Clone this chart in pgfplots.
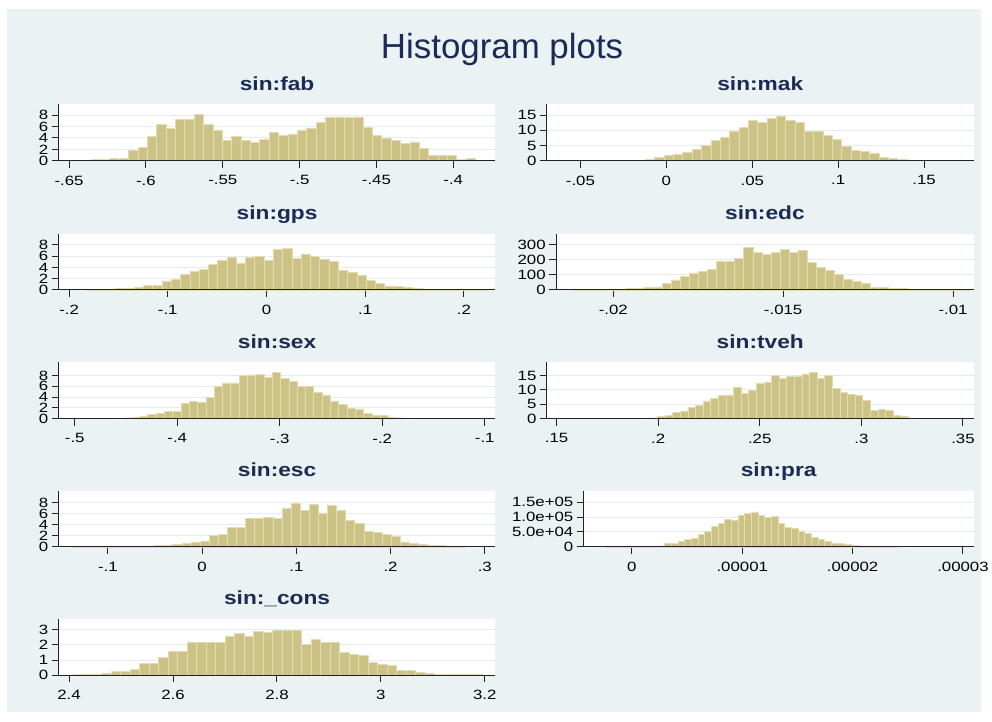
\documentclass[border=0pt]{standalone}
\usepackage{fontspec}
\setmainfont{Liberation Sans}
\newfontfamily\tickfam[FakeStretch=1.25]{Liberation Sans}
\newfontfamily\ptfam[FakeStretch=1.2]{Liberation Sans}
\usepackage{pgfplots}
\pgfplotsset{compat=1.18}
\definecolor{bgc}{HTML}{EAF2F3}
\definecolor{titc}{HTML}{1C2B55}
\definecolor{barc}{HTML}{CDC286}
\definecolor{bare}{HTML}{E3DDB4}
\definecolor{gridc}{HTML}{E4ECEF}
\definecolor{axc}{HTML}{222222}
\newcommand\ticklbl{\fontsize{13.5}{14}\selectfont\tickfam}
\newcommand\paneltitle{\fontsize{19}{20}\selectfont\ptfam\bfseries}
\pgfplotsset{
  hist/.style={
    scale only axis, height=56.5pt, anchor=south west,
    axis x line*=bottom, axis y line*=left,
    x axis line style={-}, y axis line style={-},
    axis line style={line width=1pt, color=axc},
    every tick/.style={line width=1pt, color=axc},
    major tick length=7pt, tick align=outside,
    ymajorgrids, major grid style={line width=1pt, color=gridc},
    ymin=0, clip=false,
    scaled x ticks=false, scaled y ticks=false,
    axis background/.style={fill=white},
    ticklabel style={font=\ticklbl, text=black},
    xticklabel style={yshift=-4.5pt},
    title style={font=\paneltitle, text=titc, at={(0.5,1)}, anchor=base, yshift=8pt},
    ybar, bar width=1, bar shift=0pt,
    every axis plot post/.append style={fill=barc, draw=bare, line width=0.7pt, mark=none},
  }
}
\newcommand\baseline{\draw[axc, line width=1pt] (rel axis cs:0,0) -- (rel axis cs:1,0);}
\begin{document}
\begin{tikzpicture}
\fill[white] (0pt,0pt) rectangle (992pt,-724pt);
\fill[bgc] (7pt,-9pt) rectangle (985pt,-715pt);
\node[anchor=base, text=titc, font=\fontsize{35}{38}\selectfont] at (504pt,-59pt) {Histogram plots};

% fab
\begin{axis}[hist, at={(59pt,-161.3pt)}, width=438.3pt,
  xmin=-1.434, xmax=45.115, ymax=9.9,
  xtick={-0.336,7.856,16.048,24.240,32.432,40.624}, xticklabels={-.65,-.6,-.55,-.5,-.45,-.4},
  ytick={0,2,4,6,8}, yticklabels={0,2,4,6,8}, title={sin:fab}]
\addplot coordinates {(0.5,0.05)(1.5,0.1)(2.5,0.15)(3.5,0.25)(4.5,0.35)(5.5,0.4)(6.5,1.85)(7.5,2.4)(8.5,4.2)(9.5,6.4)(10.5,5.7)(11.5,7.3)(12.5,7.2)(13.5,8.2)(14.5,6.4)(15.5,5.4)(16.5,3.6)(17.5,4.2)(18.5,3.5)(19.5,3.2)(20.5,3.8)(21.5,4.9)(22.5,4.5)(23.5,4.7)(24.5,5.4)(25.5,5.7)(26.5,6.7)(27.5,7.6)(28.5,7.7)(29.5,7.6)(30.5,7.7)(31.5,5.8)(32.5,4.5)(33.5,4.0)(34.5,3.6)(35.5,3.0)(36.5,3.3)(37.5,2.1)(38.5,0.9)(39.5,0.9)(40.5,0.9)(41.5,0.25)(42.5,0.35)(43.5,0.05)};
\baseline
\end{axis}

% mak
\begin{axis}[hist, at={(549pt,-161.3pt)}, width=428.3pt,
  xmin=-1.540, xmax=44.108, ymax=18.5,
  xtick={2.048,11.240,20.432,29.624,38.816}, xticklabels={-.05,0,.05,.1,.15},
  ytick={0,5,10,15}, yticklabels={0,5,10,15}, title={sin:mak}]
\addplot coordinates {(0.5,0.2)(1.5,0.05)(2.5,0)(3.5,0.05)(4.5,0.1)(5.5,0.1)(6.5,0.1)(7.5,0.15)(8.5,0.2)(9.5,0.5)(10.5,1.1)(11.5,1.8)(12.5,2.1)(13.5,2.8)(14.5,3.7)(15.5,5.1)(16.5,6.7)(17.5,7.6)(18.5,9.7)(19.5,10.9)(20.5,13.3)(21.5,12.5)(22.5,13.9)(23.5,14.7)(24.5,13.1)(25.5,12.7)(26.5,9.5)(27.5,9.5)(28.5,8.4)(29.5,7.1)(30.5,4.7)(31.5,3.5)(32.5,3.0)(33.5,2.4)(34.5,1.1)(35.5,0.8)(36.5,0.55)(37.5,0.2)(38.5,0.1)(39.5,0.1)(40.5,0.1)(41.5,0.1)(42.5,0.15)};
\baseline
\end{axis}

% gps
\begin{axis}[hist, at={(59pt,-291pt)}, width=438.3pt,
  xmin=-3.127, xmax=43.921, ymax=10,
  xtick={-2.018,8.617,19.252,29.887,40.522}, xticklabels={-.2,-.1,0,.1,.2},
  ytick={0,2,4,6,8}, yticklabels={0,2,4,6,8}, title={sin:gps}]
\addplot coordinates {(0.5,0.1)(1.5,0.1)(2.5,0.1)(3.5,0.2)(4.5,0.3)(5.5,0.5)(6.5,0.8)(7.5,0.8)(8.5,1.6)(9.5,1.8)(10.5,2.7)(11.5,3.3)(12.5,3.6)(13.5,4.5)(14.5,5.3)(15.5,5.8)(16.5,4.8)(17.5,5.8)(18.5,6.0)(19.5,5.2)(20.5,7.2)(21.5,7.3)(22.5,5.6)(23.5,6.4)(24.5,5.9)(25.5,5.5)(26.5,5.1)(27.5,3.4)(28.5,3.1)(29.5,2.5)(30.5,1.7)(31.5,1.2)(32.5,0.7)(33.5,0.6)(34.5,0.5)(35.5,0.25)(36.5,0.15)(37.5,0.1)(38.5,0.1)(39.5,0.1)(40.5,0.1)(41.5,0.05)(42.5,0.1)};
\baseline
\end{axis}

% edc
\begin{axis}[hist, at={(558.3pt,-291pt)}, width=419pt,
  xmin=-1.696, xmax=44.348, ymax=372,
  xtick={4.604,23.341,42.077}, xticklabels={-.02,-.015,-.01},
  ytick={0,100,200,300}, yticklabels={0,100,200,300}, title={sin:edc}]
\addplot coordinates {(0.5,3)(1.5,2)(2.5,3)(3.5,3)(4.5,4)(5.5,5)(6.5,7)(7.5,11)(8.5,15)(9.5,20)(10.5,45)(11.5,66)(12.5,90)(13.5,112)(14.5,120)(15.5,134)(16.5,188)(17.5,188)(18.5,210)(19.5,278)(20.5,245)(21.5,232)(22.5,247)(23.5,269)(24.5,247)(25.5,263)(26.5,180)(27.5,151)(28.5,129)(29.5,101)(30.5,70)(31.5,59)(32.5,44)(33.5,18)(34.5,15)(35.5,11)(36.5,7)(37.5,4)(38.5,3)(39.5,3)(40.5,2)(41.5,2)(42.5,2)(43.5,2)};
\baseline
\end{axis}

% sex
\begin{axis}[hist, at={(59pt,-420.3pt)}, width=438.3pt,
  xmin=-1.72, xmax=50.88, ymax=10.4,
  xtick={0.2,12.548,24.896,37.244,49.592}, xticklabels={-.5,-.4,-.3,-.2,-.1},
  ytick={0,2,4,6,8}, yticklabels={0,2,4,6,8}, title={sin:sex}]
\addplot coordinates {(0.5,0.1)(1.5,0.1)(2.5,0)(3.5,0)(4.5,0.1)(5.5,0.1)(6.5,0.15)(7.5,0.2)(8.5,0.4)(9.5,0.8)(10.5,1.0)(11.5,1.3)(12.5,1.4)(13.5,2.9)(14.5,3.2)(15.5,3.0)(16.5,3.9)(17.5,6.0)(18.5,6.6)(19.5,6.6)(20.5,8.0)(21.5,8.1)(22.5,8.2)(23.5,7.7)(24.5,8.5)(25.5,7.4)(26.5,6.9)(27.5,6.0)(28.5,5.9)(29.5,4.8)(30.5,4.4)(31.5,3.3)(32.5,2.6)(33.5,1.9)(34.5,1.8)(35.5,1.0)(36.5,0.55)(37.5,0.6)(38.5,0.3)(39.5,0.15)(40.5,0.1)(41.5,0.1)(42.5,0.1)};
\baseline
\end{axis}

% tveh
\begin{axis}[hist, at={(549pt,-420.3pt)}, width=428.3pt,
  xmin=-10.54, xmax=45.57, ymax=19.6,
  xtick={-9.275,4.087,17.450,30.812,44.175}, xticklabels={.15,.2,.25,.3,.35},
  ytick={0,5,10,15}, yticklabels={0,5,10,15}, title={sin:tveh}]
\addplot coordinates {(0.5,0.1)(1.5,0.1)(2.5,0.2)(3.5,0.3)(4.5,0.7)(5.5,1.2)(6.5,2.2)(7.5,2.7)(8.5,3.9)(9.5,4.7)(10.5,6.2)(11.5,7.0)(12.5,8.1)(13.5,8.3)(14.5,11.0)(15.5,8.8)(16.5,9.9)(17.5,12.2)(18.5,12.8)(19.5,15.1)(20.5,14.0)(21.5,14.6)(22.5,14.9)(23.5,15.6)(24.5,16.1)(25.5,14.0)(26.5,15.1)(27.5,10.5)(28.5,9.1)(29.5,8.4)(30.5,8.0)(31.5,6.5)(32.5,3.0)(33.5,3.3)(34.5,2.9)(35.5,1.2)(36.5,0.8)(37.5,0.15)(38.5,0.1)(39.5,0.1)(40.5,0.1)(41.5,0.1)(42.5,0.1)};
\baseline
\end{axis}

% esc
\begin{axis}[hist, at={(59pt,-549pt)}, width=438.3pt,
  xmin=-1.533, xmax=46.46, ymax=10.2,
  xtick={3.869,14.224,24.580,34.935,45.291}, xticklabels={-.1,0,.1,.2,.3},
  ytick={0,2,4,6,8}, yticklabels={0,2,4,6,8}, title={sin:esc}]
\addplot coordinates {(0.5,0.15)(1.5,0)(2.5,0)(3.5,0.05)(4.5,0.1)(5.5,0.1)(6.5,0.1)(7.5,0.1)(8.5,0.15)(9.5,0.2)(10.5,0.35)(11.5,0.5)(12.5,0.7)(13.5,0.9)(14.5,1.1)(15.5,2.1)(16.5,2.25)(17.5,3.5)(18.5,3.6)(19.5,5.1)(20.5,5.2)(21.5,5.3)(22.5,5.1)(23.5,6.9)(24.5,7.9)(25.5,6.7)(26.5,7.75)(27.5,6.15)(28.5,7.6)(29.5,6.6)(30.5,4.8)(31.5,4.2)(32.5,2.8)(33.5,2.7)(34.5,2.25)(35.5,1.9)(36.5,0.9)(37.5,0.7)(38.5,0.4)(39.5,0.3)(40.5,0.2)(41.5,0.15)(42.5,0.1)};
\baseline
\end{axis}

% pra
\begin{axis}[hist, at={(586pt,-549pt)}, width=391.3pt,
  xmin=-3.170, xmax=55.384, ymax=188300,
  xtick={4.062,20.638,37.214,53.790}, xticklabels={0,.00001,.00002,.00003},
  ytick={0,50000,100000,150000}, yticklabels={0,5.0e+04,1.0e+05,1.5e+05}, title={sin:pra}]
\addplot coordinates {(0.5,2200)(1.5,0)(2.5,1500)(3.5,2000)(4.5,2000)(5.5,2000)(6.5,2000)(7.5,2500)(8.5,3300)(9.5,13000)(10.5,13000)(11.5,18600)(12.5,26000)(13.5,29600)(14.5,42700)(15.5,51500)(16.5,69000)(17.5,79000)(18.5,92000)(19.5,90000)(20.5,104000)(21.5,112000)(22.5,117000)(23.5,106000)(24.5,98500)(25.5,103000)(26.5,79000)(27.5,66000)(28.5,62000)(29.5,53600)(30.5,43800)(31.5,32800)(32.5,24000)(33.5,17500)(34.5,13000)(35.5,11000)(36.5,7700)(37.5,4400)(38.5,3300)(39.5,1500)(40.5,1200)(41.5,1200)(42.5,1000)(43.5,1000)};
\baseline
\end{axis}

% cons
\begin{axis}[hist, at={(59pt,-677.7pt)}, width=438.3pt,
  xmin=-1.501, xmax=44.398, ymax=3.73,
  xtick={-0.419,10.507,21.433,32.359,43.285}, xticklabels={2.4,2.6,2.8,3,3.2},
  ytick={0,1,2,3}, yticklabels={0,1,2,3}, title={sin:\_cons}]
\addplot coordinates {(0.5,0.05)(1.5,0.07)(2.5,0.05)(3.5,0.1)(4.5,0.25)(5.5,0.27)(6.5,0.38)(7.5,0.78)(8.5,0.8)(9.5,1.15)(10.5,1.58)(11.5,1.58)(12.5,2.18)(13.5,2.18)(14.5,2.18)(15.5,2.15)(16.5,2.6)(17.5,2.78)(18.5,2.55)(19.5,2.87)(20.5,2.84)(21.5,3.0)(22.5,2.95)(23.5,2.95)(24.5,2.02)(25.5,2.35)(26.5,2.15)(27.5,2.15)(28.5,1.5)(29.5,1.4)(30.5,1.29)(31.5,0.87)(32.5,0.73)(33.5,0.67)(34.5,0.29)(35.5,0.29)(36.5,0.2)(37.5,0.09)(38.5,0.07)(39.5,0.04)(40.5,0.03)(41.5,0.02)(42.5,0.02)};
\baseline
\end{axis}
\end{tikzpicture}
\end{document}
